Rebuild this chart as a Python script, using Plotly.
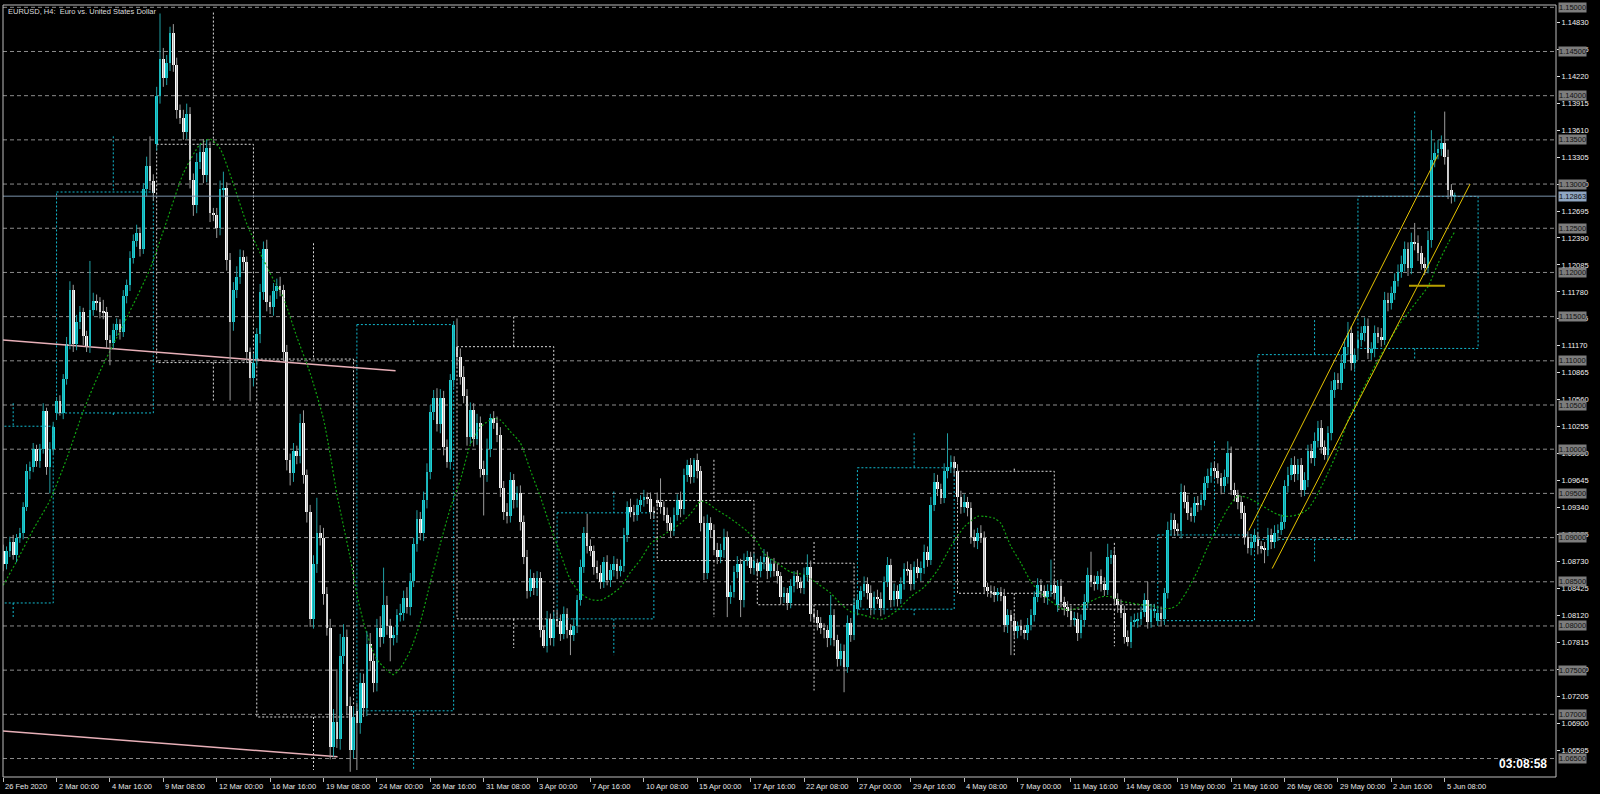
import plotly.graph_objects as go

PIP = 10000.0

# ---------------- data (H4 bars, prices in pips = price*10000) ----------------
closes = [
    10870, 10885, 10895, 10880, 10900, 10905, 10935, 10975, 10980, 11000,
    10987, 11000, 11043, 10980, 11000, 11025, 11054, 11041, 11079, 11119,
    11180, 11119, 11144, 11155, 11128, 11117, 11157, 11168, 11166, 11155,
    11155, 11124, 11120, 11135, 11142, 11133, 11173, 11186, 11216, 11236,
    11245, 11227, 11294, 11321, 11303, 11290, 11400, 11442, 11420, 11437,
    11471, 11435, 11384, 11375, 11359, 11379, 11305, 11276, 11325, 11336,
    11310, 11341, 11267, 11265, 11250, 11294, 11296, 11214, 11144, 11180,
    11195, 11218, 11212, 11110, 11080, 11098, 11130, 11178, 11227, 11167,
    11161, 11179, 11185, 11180, 11110, 10988, 10973, 10998, 10992, 11030,
    10971, 10929, 10808, 10870, 10905, 10899, 10836, 10798, 10663, 10691,
    10672, 10766, 10788, 10710, 10660, 10697, 10690, 10736, 10707, 10780,
    10760, 10735, 10798, 10788, 10824, 10800, 10786, 10790, 10812, 10815,
    10832, 10822, 10851, 10893, 10921, 10905, 10943, 10974, 11042, 11058,
    11028, 11058, 11002, 10986, 11078, 11141, 11104, 11082, 11060, 11014,
    11044, 11012, 11030, 10978, 10971, 11000, 11035, 11030, 11016, 10956,
    10929, 10924, 10965, 10942, 10950, 10918, 10878, 10840, 10854, 10843,
    10854, 10795, 10777, 10808, 10786, 10808, 10806, 10791, 10814, 10795,
    10790, 10800, 10829, 10867, 10905, 10890, 10885, 10867, 10860, 10850,
    10872, 10852, 10863, 10870, 10862, 10868, 10903, 10935, 10929, 10925,
    10937, 10942, 10946, 10944, 10929, 10928, 10940, 10935, 10926, 10916,
    10908, 10926, 10943, 10932, 10971, 10982, 10968, 10988, 10975, 10916,
    10860, 10916, 10909, 10886, 10878, 10886, 10901, 10833, 10838, 10861,
    10870, 10829, 10874, 10878, 10866, 10874, 10862, 10872, 10878, 10862,
    10870, 10862, 10856, 10833, 10837, 10826, 10845, 10856, 10850, 10843,
    10858, 10867, 10814, 10810, 10803, 10798, 10795, 10786, 10812, 10784,
    10763, 10772, 10754, 10803, 10790, 10824, 10829, 10839, 10848, 10837,
    10820, 10833, 10831, 10820, 10850, 10869, 10829, 10840, 10831, 10848,
    10865, 10863, 10848, 10867, 10860, 10866, 10884, 10875, 10937, 10963,
    10955, 10945, 10975, 10980, 10986, 10979, 10946, 10935, 10940, 10933,
    10901, 10896, 10905, 10900, 10844, 10840, 10838, 10835, 10838, 10834,
    10801, 10812, 10806, 10794, 10800, 10795, 10792, 10801, 10812, 10833,
    10846, 10840, 10833, 10839, 10846, 10837, 10845, 10827, 10821, 10817,
    10807, 10808, 10792, 10807, 10827, 10858, 10850, 10848, 10856, 10848,
    10841, 10878, 10880, 10830, 10824, 10815, 10788, 10782, 10805, 10806,
    10808, 10816, 10829, 10805, 10818, 10819, 10815, 10808, 10837, 10909,
    10920, 10910, 10908, 10952, 10940, 10928, 10924, 10939, 10937, 10943,
    10962, 10970, 10979, 10975, 10967, 10958, 10969, 10996, 10954, 10948,
    10940, 10928, 10901, 10888, 10895, 10903, 10890, 10888, 10886, 10903,
    10895, 10905, 10909, 10918, 10958, 10971, 10982, 10972, 10982, 10954,
    10965, 10998, 10990, 11009, 11024, 11003, 10994, 11018, 11067, 11078,
    11075, 11097, 11116, 11131, 11097, 11107, 11124, 11131, 11139, 11109,
    11113, 11131, 11127, 11124, 11169, 11165, 11177, 11190, 11201, 11209,
    11226, 11205, 11235, 11233, 11222, 11210, 11205, 11237, 11327, 11335,
    11340, 11346, 11331, 11293, 11286, 11286.3,
]

upper_wick = [
    7, 5, 6, 8, 4, 6, 5, 8, 6, 7,   5, 6, 9, 4, 8, 6, 5, 7, 6, 8,
    10, 6, 8, 7, 5, 6, 56, 9, 7, 6,  14, 6, 5, 7, 6, 5, 7, 6, 8, 7,
    9, 6, 7, 10, 33, 8, 10, 51, 12, 9,  7, 10, 8, 6, 9, 12, 8, 7, 10, 9,
    15, 9, 7, 6, 8, 10, 18, 6, 8, 9,  12, 8, 7, 6, 5, 10, 7, 9, 8, 10,
    7, 9, 8, 10, 6, 8, 7, 9, 6, 10,  14, 6, 8, 10, 40, 9, 12, 8, 10, 15,
    60, 25, 14, 8, 10, 12, 9, 11, 10, 14,  12, 9, 10, 13, 42, 10, 8, 9, 7, 10,
    8, 12, 9, 7, 10, 8, 9, 10, 8, 9,  11, 10, 8, 9, 7, 4, 32, 10, 12, 8,
    9, 8, 10, 7, 9, 12, 5, 8, 7, 9,  8, 10, 9, 7, 8, 9, 7, 8, 10, 6,
    8, 7, 5, 9, 6, 8, 10, 7, 8, 6,  7, 9, 6, 8, 7, 22, 8, 6, 7, 9,
    6, 8, 7, 9, 6, 7, 8, 6, 9, 8,  7, 6, 8, 5, 7, 6, 9, 27, 6, 8,
    7, 8, 6, 9, 7, 6, 8, 2, 7, 6,  8, 10, 7, 6, 8, 7, 9, 6, 8, 7,
    9, 6, 8, 7, 6, 8, 5, 7, 9, 6,  6, 7, 8, 5, 7, 6, 8, 6, 7, 5,
    8, 14, 7, 6, 8, 7, 5, 6, 23, 7,  6, 8, 7, 9, 6, 8, 7, 6, 8, 7,
    9, 6, 8, 7, 6, 9, 7, 8, 6, 7,  6, 8, 7, 6, 9, 7, 8, 6, 9, 10,
    8, 6, 9, 38, 7, 6, 8, 7, 9, 6,  7, 8, 6, 9, 7, 5, 6, 7, 5, 6,
    8, 7, 6, 8, 5, 7, 6, 8, 7, 6,  8, 7, 6, 8, 29, 6, 7, 8, 6, 7,
    6, 8, 7, 6, 9, 8, 26, 7, 6, 8,  7, 15, 6, 8, 7, 6, 8, 7, 6, 8,
    7, 6, 8, 21, 7, 6, 8, 7, 6, 9,  8, 7, 6, 9, 7, 8, 6, 7, 8, 6,
    7, 8, 6, 7, 9, 6, 8, 13, 7, 8,  6, 7, 8, 6, 9, 7, 8, 6, 7, 8,
    7, 9, 6, 8, 7, 9, 8, 10, 7, 8,  9, 7, 8, 10, 8, 9, 7, 8, 10, 9,
    8, 10, 9, 13, 8, 7, 9, 8, 10, 9,  8, 9, 7, 10, 9, 8, 7, 9, 8, 10,
    9, 8, 10, 21, 9, 8, 7, 10, 34, 12,  10, 9, 36, 8, 7, 4,
]

lower_wick = [
    8, 6, 7, 5, 8, 6, 7, 5, 9, 6,  7, 8, 5, 9, 30, 6, 8, 3, 7, 6,
    6, 9, 7, 8, 10, 7, 8, 6, 9, 7,  8, 10, 25, 6, 7, 9, 6, 8, 7, 6,
    7, 9, 6, 8, 10, 9, 7, 9, 10, 8,  9, 8, 10, 7, 9, 8, 10, 12, 9, 8,
    9, 8, 10, 7, 11, 8, 9, 12, 89, 10,  9, 8, 10, 12, 26, 9, 8, 10, 9, 11,
    8, 10, 9, 7, 10, 12, 14, 10, 9, 8,  10, 12, 9, 11, 10, 8, 12, 9, 14, 11,
    10, 12, 9, 11, 25, 10, 53, 12, 10, 9,  11, 10, 9, 12, 8, 10, 26, 8, 9, 7,
    9, 8, 10, 7, 9, 8, 9, 10, 8, 9,  8, 10, 9, 7, 9, 8, 10, 9, 8, 10,
    8, 9, 7, 10, 46, 8, 9, 7, 8, 10,  9, 8, 7, 9, 8, 10, 8, 9, 7, 8,
    9, 8, 2, 7, 8, 9, 7, 8, 6, 9,  23, 7, 8, 6, 7, 8, 6, 9, 7, 8,
    7, 6, 8, 7, 9, 6, 7, 8, 6, 7,  6, 8, 7, 6, 8, 7, 6, 8, 7, 9,
    8, 6, 7, 9, 6, 8, 7, 6, 8, 9,  8, 7, 9, 6, 8, 7, 9, 23, 8, 6,
    7, 19, 8, 6, 7, 8, 6, 7, 8, 9,  7, 6, 8, 9, 7, 8, 6, 7, 8, 6,
    7, 8, 9, 6, 8, 7, 9, 10, 8, 7,  9, 8, 29, 7, 8, 6, 7, 8, 6, 7,
    8, 7, 6, 9, 7, 6, 8, 7, 9, 6,  7, 6, 8, 7, 6, 9, 7, 8, 6, 7,
    8, 7, 6, 8, 7, 9, 6, 8, 7, 9,  8, 7, 9, 6, 8, 7, 6, 8, 7, 6,
    8, 9, 39, 7, 8, 6, 7, 8, 6, 7,  6, 8, 7, 9, 6, 7, 8, 6, 9, 7,
    8, 7, 9, 6, 8, 7, 6, 8, 7, 9,  7, 6, 8, 7, 9, 6, 8, 5, 7, 6,
    8, 7, 6, 8, 7, 9, 6, 8, 7, 6,  7, 8, 6, 9, 7, 8, 6, 7, 8, 6,
    7, 6, 8, 7, 6, 9, 7, 8, 6, 7,  8, 7, 9, 6, 8, 7, 9, 6, 15, 7,
    8, 7, 9, 6, 8, 7, 6, 9, 7, 8,  7, 8, 6, 9, 7, 8, 6, 7, 8, 9,
    7, 8, 6, 9, 8, 7, 13, 8, 9, 7,  8, 9, 7, 8, 6, 9, 7, 8, 6, 7,
    8, 9, 7, 8, 9, 7, 8, 6, 9, 8,  7, 8, 9, 10, 8, 6,
]

# opens that differ from the previous close (week openings / gaps)
gap_opens = {0: 10885, 16: 11041, 46: 11345, 76: 11102, 106: 10704, 136: 11116,
             196: 10942, 226: 10871, 256: 10819, 286: 10975, 316: 10824,
             346: 10806, 376: 10898, 406: 11114}

# moving average
ma_bars = [0, 4, 9, 14, 19, 24, 29, 34, 39, 44, 49, 54, 59, 62, 65, 69, 73, 77, 80,
           84, 88, 92, 96, 98, 100, 102, 104, 106, 108, 110, 112, 115, 117, 119, 122,
           125, 128, 131, 134, 137, 140, 143, 147, 149, 152, 155, 158, 161, 164, 167,
           170, 173, 176, 179, 182, 185, 188, 191, 194, 197, 200, 203, 206, 209, 211,
           214, 217, 220, 223, 226, 228, 232, 236, 240, 244, 248, 251, 254, 258, 262,
           264, 268, 272, 276, 280, 284, 288, 292, 294, 297, 299, 302, 305, 308, 311,
           314, 317, 320, 323, 326, 329, 332, 335, 338, 341, 344, 347, 350, 352, 355,
           358, 361, 364, 367, 370, 373, 376, 379, 382, 385, 388, 391, 394, 397, 400,
           403, 406, 409, 412, 415, 418, 421, 424, 427, 430, 433, 435]
ma_vals = [10846, 10873, 10909, 10942, 10989, 11043, 11088, 11126, 11164, 11204, 11258,
           11312, 11345, 11351, 11340, 11300, 11255, 11222, 11199,
           11171, 11127, 11086, 11034, 10994, 10949, 10913, 10877, 10836, 10804, 10780,
           10762, 10750, 10745, 10752, 10772,
           10804, 10849, 10893, 10933, 10965, 11005, 11025, 11035, 11033, 11020, 11007,
           10976, 10946, 10912, 10882,
           10852, 10837, 10830, 10829, 10835, 10844, 10861, 10875, 10893, 10901, 10908,
           10916, 10927, 10941, 10939,
           10931, 10924, 10916, 10907, 10895, 10882, 10871, 10861, 10858, 10848, 10837,
           10825, 10816, 10812, 10808,
           10808, 10818, 10833, 10844, 10863, 10890, 10912, 10924, 10924, 10922, 10916,
           10890, 10871, 10850, 10837,
           10828, 10820, 10818, 10822, 10828, 10833, 10833, 10828, 10826, 10824, 10823,
           10820, 10820, 10824, 10841,
           10863, 10890, 10912, 10933, 10947, 10945, 10939, 10932, 10926, 10924, 10926,
           10932, 10950, 10973, 10999,
           11033, 11056, 11079, 11101, 11120, 11139, 11154, 11169, 11184, 11210, 11233, 11246]

# weekly candles drawn as dotted boxes
week_start = [-14, 16, 46, 76, 106, 136, 166, 196, 226, 256, 286, 316, 346, 376, 406]
week_end = [15, 45, 75, 105, 135, 165, 195, 225, 255, 285, 315, 345, 375, 405, 442]
week_open = [10826, 11041, 11345, 11102, 10704, 11116, 10808, 10942, 10871, 10819,
             10975, 10824, 10806, 10898, 11114]
week_close = [11026, 11291, 11098, 10697, 11141, 10808, 10928, 10874, 10824, 10979,
              10837, 10819, 10903, 11107, 11286]
week_high = [11052, 11354, 11494, 11233, 11146, 11150, 10952, 10988, 10895, 11018,
             10978, 10894, 11009, 11146, 11382]
week_low = [10810, 11038, 11054, 10637, 10637, 10775, 10767, 10810, 10727, 10812,
            10767, 10777, 10806, 10873, 11101]

# trend lines: (bar, pips)
pink_lines = [[(-1, 11123.7), (117.6, 11088.7)], [(-1, 10681.3), (100.2, 10652.0)]]
yellow_lines = [[(373.3, 10908), (430.0, 11333)], [(380.3, 10865), (439.6, 11300)]]
yellow_level = [(421.3, 11185), (432.1, 11185)]

bid_price = 1.12863
level_prices = [1.065, 1.070, 1.075, 1.080, 1.085, 1.090, 1.095, 1.100, 1.105, 1.110,
                1.115, 1.120, 1.125, 1.130, 1.135, 1.140, 1.145, 1.150]
price_ticks = [1.06595, 1.06900, 1.07205, 1.07510, 1.07815, 1.08120, 1.08425, 1.08730,
               1.09035, 1.09340, 1.09645, 1.09950, 1.10255, 1.10560, 1.10865, 1.11170,
               1.11475, 1.11780, 1.12085, 1.12390, 1.12695, 1.13000, 1.13305, 1.13610,
               1.13915, 1.14220, 1.14525, 1.14830]
time_label_bars = [0, 16, 32, 48, 64, 80, 96, 112, 128, 144, 160, 176, 192, 208, 224,
                   240, 256, 272, 288, 304, 320, 336, 352, 368, 384, 400, 416, 432]
time_labels = ["26 Feb 2020", "2 Mar 00:00", "4 Mar 16:00", "9 Mar 08:00", "12 Mar 00:00",
               "16 Mar 16:00", "19 Mar 08:00", "24 Mar 00:00", "26 Mar 16:00", "31 Mar 08:00",
               "3 Apr 00:00", "7 Apr 16:00", "10 Apr 08:00", "15 Apr 00:00", "17 Apr 16:00",
               "22 Apr 08:00", "27 Apr 00:00", "29 Apr 16:00", "4 May 08:00", "7 May 00:00",
               "11 May 16:00", "14 May 08:00", "19 May 00:00", "21 May 16:00", "26 May 08:00",
               "29 May 00:00", "2 Jun 16:00", "5 Jun 08:00"]
title_text = "EURUSD, H4:  Euro vs. United States Dollar"
clock_text = "03:08:58"

assert len(closes) == len(upper_wick) == len(lower_wick) == 436

# ---------------- derived OHLC ----------------
n = len(closes)
opens = [gap_opens[i] if i in gap_opens else closes[i - 1] for i in range(n)]
highs = [max(opens[i], closes[i]) + upper_wick[i] for i in range(n)]
lows = [min(opens[i], closes[i]) - lower_wick[i] for i in range(n)]

FONT = "Liberation Sans, Arial, sans-serif"
UP_BODY, UP_WICK = "#19d3d8", "#1f9ea3"
DN_BODY, DN_WICK = "#ffffff", "#9c9c9c"
BOX_UP, BOX_DN = "#12b9cf", "#dcdcdc"

fig = go.Figure()

# weekly boxes
for bull in (True, False):
    xs, ys = [], []
    for k in range(len(week_start)):
        o, c = week_open[k], week_close[k]
        if (c > o) != bull:
            continue
        s, e = week_start[k], week_end[k]
        top, bot = max(o, c) / PIP, min(o, c) / PIP
        xs += [s, e, e, s, s, None]
        ys += [top, top, bot, bot, top, None]
        w = s + 17
        xs += [w, w, None, w, w, None]
        ys += [week_high[k] / PIP, top, None, bot, week_low[k] / PIP, None]
    fig.add_trace(go.Scatter(x=xs, y=ys, mode="lines", hoverinfo="skip",
                             line=dict(color=BOX_UP if bull else BOX_DN, width=1, dash="2px,2px")))

# pink trend lines
for ln in pink_lines:
    fig.add_trace(go.Scatter(x=[p[0] for p in ln], y=[p[1] / PIP for p in ln], mode="lines",
                             hoverinfo="skip", line=dict(color="#e8b0b8", width=1.5)))

# moving average
fig.add_trace(go.Scatter(x=ma_bars, y=[v / PIP for v in ma_vals], mode="lines", hoverinfo="skip",
                         line=dict(color="#10a010", width=1.2, dash="2px,2px", shape="spline", smoothing=0.6)))

# candle wicks
for bull in (True, False):
    xs, ys = [], []
    for i in range(n):
        if (closes[i] > opens[i]) != bull:
            continue
        xs += [i, i, None]
        ys += [lows[i] / PIP, highs[i] / PIP, None]
    fig.add_trace(go.Scatter(x=xs, y=ys, mode="lines", hoverinfo="skip",
                             line=dict(color=UP_WICK if bull else DN_WICK, width=1)))

# candle bodies
for bull in (True, False):
    idx = [i for i in range(n) if (closes[i] > opens[i]) == bull]
    base = [min(opens[i], closes[i]) / PIP for i in idx]
    hgt = [max(abs(closes[i] - opens[i]), 1.0) / PIP for i in idx]
    fig.add_trace(go.Bar(x=idx, y=hgt, base=base, width=0.8, hoverinfo="skip",
                         marker=dict(color=UP_BODY if bull else DN_BODY, line=dict(width=0))))

# yellow channel
for ln in yellow_lines:
    fig.add_trace(go.Scatter(x=[p[0] for p in ln], y=[p[1] / PIP for p in ln], mode="lines",
                             hoverinfo="skip", line=dict(color="#e6c400", width=1)))
fig.add_trace(go.Scatter(x=[p[0] for p in yellow_level], y=[p[1] / PIP for p in yellow_level],
                         mode="lines", hoverinfo="skip", line=dict(color="#b8a000", width=2)))

shapes = []
for p in level_prices:
    shapes.append(dict(type="line", xref="paper", x0=0, x1=1, yref="y", y0=p, y1=p, layer="below",
                       line=dict(color="#8c8c8c", width=1, dash="4px,3px")))
shapes.append(dict(type="line", xref="paper", x0=0, x1=1, yref="y", y0=bid_price, y1=bid_price,
                   layer="above", line=dict(color="#7a92aa", width=1)))
shapes.append(dict(type="rect", xref="paper", yref="paper", x0=0, x1=1, y0=0, y1=1,
                   layer="above", line=dict(color="#bdbdbd", width=1)))

annotations = []
for p in level_prices:
    annotations.append(dict(x=1, xref="paper", y=p, yref="y", xanchor="left", yanchor="middle",
                            xshift=2, text=f"{p:.5f}", showarrow=False, bgcolor="#7d7d7d",
                            borderpad=0, font=dict(family=FONT, size=7.5, color="#111111")))
annotations.append(dict(x=1, xref="paper", y=bid_price, yref="y", xanchor="left", yanchor="middle",
                        xshift=2, text=f"{bid_price:.5f}", showarrow=False, bgcolor="#8fa6c2",
                        borderpad=0, font=dict(family=FONT, size=7.5, color="#111111")))
for b, t in zip(time_label_bars, time_labels):
    annotations.append(dict(x=b, xref="x", y=0, yref="paper", xanchor="left", yanchor="top",
                            xshift=0, yshift=-3, text=t, showarrow=False,
                            font=dict(family=FONT, size=7.5, color="#e6e6e6")))
annotations.append(dict(x=0, xref="paper", y=1, yref="paper", xanchor="left", yanchor="top",
                        xshift=3, yshift=0, text=title_text, showarrow=False,
                        font=dict(family=FONT, size=7.5, color="#dddddd")))
annotations.append(dict(x=1, xref="paper", y=0, yref="paper", xanchor="right", yanchor="bottom",
                        xshift=-7, yshift=4, text=f"<b>{clock_text}</b>", showarrow=False,
                        font=dict(family=FONT, size=12, color="#ffffff")))

fig.update_layout(
    width=1600, height=794,
    margin=dict(l=3, r=44, t=5, b=17),
    paper_bgcolor="#000000", plot_bgcolor="#000000",
    showlegend=False, barmode="overlay", bargap=0,
    shapes=shapes, annotations=annotations,
    xaxis=dict(range=[-0.05, 465.35], showgrid=False, zeroline=False, showline=False,
               tickvals=time_label_bars, ticks="outside", ticklen=4, tickcolor="#bdbdbd",
               showticklabels=False, fixedrange=True),
    yaxis=dict(range=[1.06291, 1.15026], side="right", showgrid=False, zeroline=False,
               showline=False, tickvals=price_ticks, ticktext=[f"{v:.5f}" for v in price_ticks],
               ticks="outside", ticklen=3, tickcolor="#e0e0e0",
               tickfont=dict(family=FONT, size=7.5, color="#f0f0f0"), fixedrange=True),
)

fig.write_html("out.html", config={"displayModeBar": False},
               post_script="document.body.style.margin='0px';document.body.style.background='#000';")
